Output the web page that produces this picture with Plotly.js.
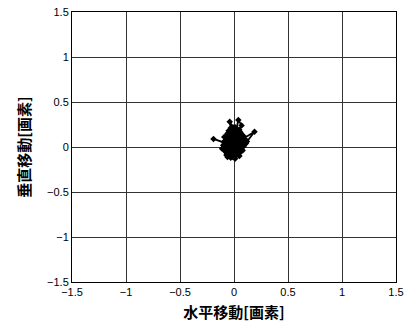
<!DOCTYPE html>
<html><head><meta charset="utf-8">
<script src="https://cdn.plot.ly/plotly-3.0.1.min.js"></script>
<style>html,body{margin:0;padding:0;background:#fff;}</style>
</head><body>
<div id="chart" style="width:406px;height:333px;"></div>
<script>
const xValues = [0.00,-0.03,0.02,0.05,-0.02,-0.06,0.01,0.04,0.08,0.03,-0.04,-0.08,-0.05,0.00,0.06,0.10,0.05,-0.01,-0.07,-0.10,-0.04,0.02,0.04,0.07,0.03,-0.03,-0.06,-0.02,0.04,0.09,0.06,0.00,-0.05,-0.19,-0.09,-0.03,0.03,0.01,-0.04,-0.02,0.04,0.07,0.02,-0.03,-0.04,-0.01,0.05,0.08,0.19,0.12,0.06,0.04,0.00,-0.03,-0.05,-0.02,0.03,0.06,0.02,-0.02,-0.06,-0.08,-0.03,0.00,-0.04,-0.02,0.03,0.05,0.01,-0.01,
  -0.07,-0.09,-0.05,0.00,0.05,0.09,0.11,0.07,0.02,-0.03,-0.07,-0.11,-0.08,-0.04,0.01,0.06,0.10,0.08,0.03,-0.02,-0.06,-0.04,0.00,0.04,0.08,0.05,0.01,-0.05,-0.09,-0.06,-0.01,0.03,0.07,0.04,-0.01,-0.04,0.02,0.06,0.03,0.00];
const yValues = [0.00,0.05,0.08,0.02,-0.04,0.01,0.10,0.15,0.07,-0.02,-0.08,-0.03,0.06,0.12,0.10,0.03,-0.06,-0.11,-0.06,0.02,0.09,0.18,0.30,0.24,0.13,0.04,-0.02,-0.09,-0.05,0.01,0.08,0.05,0.03,0.09,0.05,-0.01,-0.08,-0.13,-0.10,-0.03,0.04,0.12,0.16,0.21,0.28,0.22,0.17,0.09,0.17,0.06,-0.01,-0.09,-0.06,0.00,0.08,0.14,0.09,0.03,-0.03,-0.07,-0.11,-0.05,0.02,0.07,0.12,0.17,0.20,0.13,0.06,0.01,
  0.04,0.11,0.18,0.14,0.19,0.12,0.04,-0.03,-0.08,-0.12,-0.09,-0.02,0.07,0.15,0.22,0.16,0.09,0.00,-0.05,-0.01,0.05,0.13,0.08,0.02,-0.04,-0.10,-0.07,-0.01,0.06,0.15,0.10,0.19,0.14,0.07,0.11,0.03,-0.02,0.05,0.10,0.04];
const tickVals = [-1.5,-1,-0.5,0,0.5,1,1.5];
const tickText = ['\u22121.5','\u22121','\u22120.5','0','0.5','1','1.5'];
const xTitle = '水平移動[画素]';
const yTitle = '垂直移動[画素]';

const axisCommon = {
  range:[-1.5,1.5], tickvals:tickVals, ticktext:tickText,
  showgrid:true, gridcolor:'#333', gridwidth:1,
  zeroline:false, showline:true, linecolor:'#000', linewidth:1, mirror:true,
  ticks:'', tickfont:{family:'Liberation Sans, Arial, sans-serif', size:11, color:'#000'}
};
Plotly.newPlot('chart',[{
  x:xValues, y:yValues, type:'scatter', mode:'lines+markers',
  line:{color:'#000', width:1.8},
  marker:{color:'#000', size:5, symbol:'diamond'}
}],{
  width:406, height:333,
  margin:{l:72,r:10,t:12,b:51},
  paper_bgcolor:'#fff', plot_bgcolor:'#fff',
  showlegend:false,
  xaxis:Object.assign({}, axisCommon, {
    title:{text:'<b>'+xTitle+'</b>', standoff:10, font:{family:'Noto Sans CJK JP', size:15, color:'#000'}}
  }),
  yaxis:Object.assign({}, axisCommon, {
    title:{text:'<b>'+yTitle+'</b>', standoff:12, font:{family:'Noto Sans CJK JP', size:15, color:'#000'}}
  })
},{staticPlot:true, displayModeBar:false});
</script>
</body></html>
